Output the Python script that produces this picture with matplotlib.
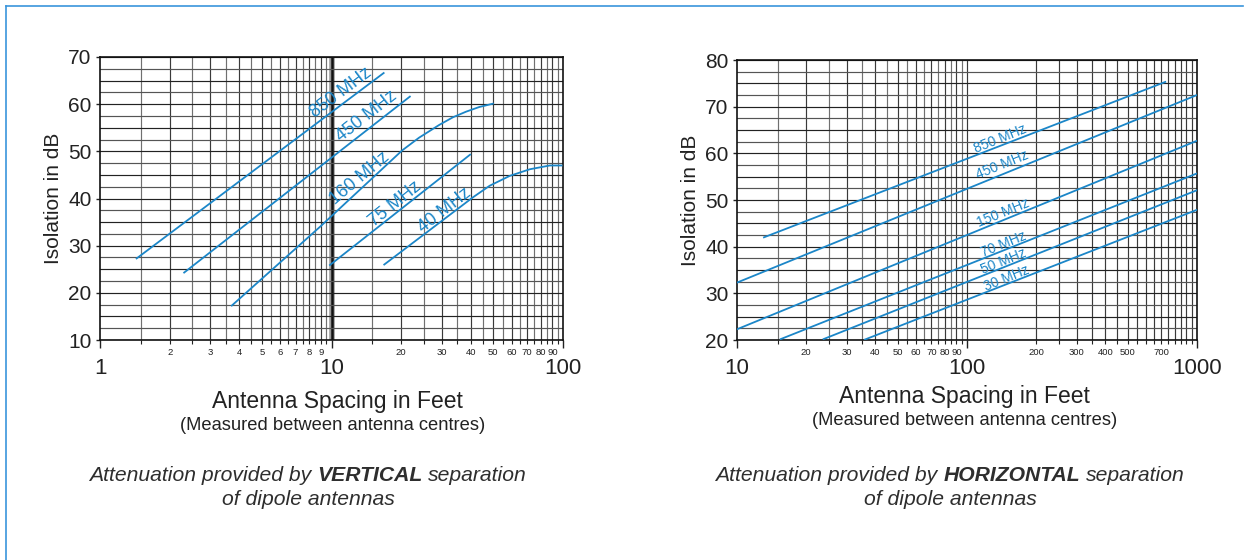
import numpy as np
import matplotlib
matplotlib.use('Agg')
import matplotlib.pyplot as plt
from matplotlib.lines import Line2D
from matplotlib.ticker import FixedLocator, FixedFormatter

plt.rcParams['font.family'] = ['Liberation Sans', 'DejaVu Sans']

LINE_BLUE = '#1b86c8'
FRAME_BLUE = '#3a95dc'
TEXT = '#222222'

# Vertical separation: spacing in feet / isolation in dB
vert_labels = ['850 MHz', '450 MHz', '160 MHz', '75 MHz', '40 MHz']
vert_850_x = [1.44, 16.8]
vert_850_y = [27.3, 66.6]
vert_450_x = [2.31, 21.8]
vert_450_y = [24.3, 61.6]
vert_160_x = [3.71, 8.92, 20.2, 23.9, 29.2, 33.4, 38.1, 43.5, 49.8]
vert_160_y = [17.3, 34.0, 50.2, 52.9, 55.6, 57.2, 58.4, 59.4, 60.1]
vert_75_x = [9.85, 39.7]
vert_75_y = [25.9, 49.3]
vert_40_x = [16.9, 40.7, 48.2, 58.9, 71.9, 87.7, 98.6]
vert_40_y = [26.0, 40.2, 42.7, 44.8, 46.2, 47.0, 47.0]
# where each frequency label sits (x, y, angle)
vert_label_pos = [(11.0, 62.4, 37), (14.2, 57.5, 38), (13.3, 44.3, 40),
                  (18.8, 38.9, 39), (30.7, 37.4, 38)]

# Horizontal separation
horiz_labels = ['850 MHz', '450 MHz', '150 MHz', '70 MHz', '50 MHz', '30 MHz']
horiz_850_x = [13.1, 728]
horiz_850_y = [42.0, 75.3]
horiz_450_x = [10, 1000]
horiz_450_y = [32.3, 72.5]
horiz_150_x = [10, 1000]
horiz_150_y = [22.3, 62.7]
horiz_70_x = [15.5, 1000]
horiz_70_y = [20.2, 55.7]
horiz_50_x = [23.8, 1000]
horiz_50_y = [20.2, 52.1]
horiz_30_x = [36, 1000]
horiz_30_y = [20.1, 47.9]
horiz_label_pos = [(140, 63.1), (142, 57.5), (143, 47.2),
                   (144, 40.5), (145, 36.9), (148, 33.3)]

vert_minor_labels = ['2', '3', '4', '5', '6', '7', '8', '9',
                     '20', '30', '40', '50', '60', '70', '80', '90']
horiz_minor_labels = ['20', '30', '40', '50', '60', '70', '80', '90',
                      '200', '300', '400', '500', '700']


def setup_chart(ax, xlim, ylim, xgrid, bold_x, minor_labels):
    ax.set_xscale('log')
    ax.set_xlim(*xlim)
    ax.set_ylim(*ylim)
    for x in xgrid:
        whole = abs(x - round(x)) < 1e-9 and (x < 10 or x % 10 == 0 or x % 100 == 0)
        ax.axvline(x, color='#3a3a3a' if whole else '#707070', lw=0.85, zorder=1)
    if bold_x is not None:
        ax.axvline(bold_x, color='#9a9a9a', lw=4, zorder=1)
        ax.axvline(bold_x, color='#111111', lw=1.8, zorder=1)
    for y in np.arange(ylim[0], ylim[1] + 0.01, 2.5):
        ax.axhline(y, color='#222222' if y % 5 == 0 else '#555555', lw=0.85, zorder=1)
    for s in ax.spines.values():
        s.set_color('#111111')
        s.set_linewidth(1.2)

    major = [xlim[0], xlim[0] * 10, xlim[1]]
    ax.xaxis.set_major_locator(FixedLocator(major))
    ax.xaxis.set_major_formatter(FixedFormatter([str(int(v)) for v in major]))
    minor_pos = [x for x in xgrid if x not in major]
    minor_txt = []
    for x in minor_pos:
        name = str(int(x)) if abs(x - round(x)) < 1e-9 else ''
        minor_txt.append(name if name in minor_labels else '')
    ax.xaxis.set_minor_locator(FixedLocator(minor_pos))
    ax.xaxis.set_minor_formatter(FixedFormatter(minor_txt))
    ax.tick_params(axis='x', which='major', length=6, width=1, pad=7,
                   labelsize=16, colors=TEXT)
    ax.tick_params(axis='x', which='minor', length=3, width=0.8, pad=3,
                   labelsize=6.8, colors=TEXT)
    ax.set_yticks(np.arange(ylim[0], ylim[1] + 1, 10))
    ax.tick_params(axis='y', which='major', length=3, width=1, pad=3,
                   labelsize=15, colors=TEXT)
    ax.yaxis.set_minor_locator(FixedLocator([]))


def caption(fig, cx, y, parts, size=15.2):
    renderer = fig.canvas.get_renderer()

    def width(s, weight):
        t = fig.text(0, 0, s, fontsize=size, style='italic', weight=weight)
        w = t.get_window_extent(renderer).width
        t.remove()
        return w

    space = width('a a', 'normal') - width('aa', 'normal')
    widths = [width(s, w) for s, w in parts]
    total = sum(widths) + space * (len(parts) - 1)
    x = cx * fig.bbox.width - total / 2
    for (s, w), pw in zip(parts, widths):
        fig.text(x / fig.bbox.width, y, s, fontsize=size, style='italic',
                 weight=w, color='#2e2e2e', ha='left', va='baseline')
        x += pw + space


fig = plt.figure(figsize=(12.47, 5.6), dpi=100)
W, H = 1247, 560

# frame around the panel
fig.add_artist(Line2D([6 / W, 6 / W], [0, 1 - 6 / H], color=FRAME_BLUE, lw=1.2))
fig.add_artist(Line2D([6 / W, 1243 / W], [1 - 6 / H, 1 - 6 / H], color=FRAME_BLUE, lw=1.2))

# ---- vertical separation chart ----
ax1 = fig.add_axes([100 / W, 220 / H, 463 / W, 283 / H])
grid1 = list(np.arange(1.5, 10, 0.5)) + list(np.arange(15, 100, 5))
setup_chart(ax1, (1, 100), (10, 70), grid1, 10, vert_minor_labels)

vert_series = [(vert_850_x, vert_850_y), (vert_450_x, vert_450_y),
               (vert_160_x, vert_160_y), (vert_75_x, vert_75_y),
               (vert_40_x, vert_40_y)]
for (xs, ys), name, (lx, ly, rot) in zip(vert_series, vert_labels, vert_label_pos):
    ax1.plot(xs, ys, color=LINE_BLUE, lw=1.3, zorder=3)
    ax1.text(lx, ly, name, color=LINE_BLUE, fontsize=13, rotation=rot,
             rotation_mode='anchor', ha='center', va='center', zorder=4)

ax1.set_ylabel('Isolation in dB', fontsize=15, color=TEXT, labelpad=4)
fig.text(337 / W, 1 - 408 / H, 'Antenna Spacing in Feet', fontsize=16.5,
         color=TEXT, ha='center', va='baseline')
fig.text(333 / W, 1 - 430 / H, '(Measured between antenna centres)', fontsize=13.2,
         color=TEXT, ha='center', va='baseline')

# ---- horizontal separation chart ----
ax2 = fig.add_axes([737 / W, 220 / H, 460 / W, 280 / H])
grid2 = list(np.arange(15, 100, 5)) + [100] + list(np.arange(200, 1000, 50))
setup_chart(ax2, (10, 1000), (20, 80), grid2, None, horiz_minor_labels)

horiz_series = [(horiz_850_x, horiz_850_y), (horiz_450_x, horiz_450_y),
                (horiz_150_x, horiz_150_y), (horiz_70_x, horiz_70_y),
                (horiz_50_x, horiz_50_y), (horiz_30_x, horiz_30_y)]
for (xs, ys), name, (lx, ly) in zip(horiz_series, horiz_labels, horiz_label_pos):
    ax2.plot(xs, ys, color=LINE_BLUE, lw=1.3, zorder=3)
    ax2.text(lx, ly, name, color=LINE_BLUE, fontsize=10, rotation=22,
             rotation_mode='anchor', ha='center', va='center', zorder=4)

ax2.set_ylabel('Isolation in dB', fontsize=15, color=TEXT, labelpad=4)
fig.text(964 / W, 1 - 403 / H, 'Antenna Spacing in Feet', fontsize=16.5,
         color=TEXT, ha='center', va='baseline')
fig.text(965 / W, 1 - 425 / H, '(Measured between antenna centres)', fontsize=13.2,
         color=TEXT, ha='center', va='baseline')

# ---- captions ----
caption(fig, 308 / W, 1 - 481 / H,
        [('Attenuation provided by', 'normal'), ('VERTICAL', 'bold'), ('separation', 'normal')])
caption(fig, 308 / W, 1 - 505 / H, [('of dipole antennas', 'normal')])
caption(fig, 950 / W, 1 - 481 / H,
        [('Attenuation provided by', 'normal'), ('HORIZONTAL', 'bold'), ('separation', 'normal')])
caption(fig, 950 / W, 1 - 505 / H, [('of dipole antennas', 'normal')])

fig.savefig('out.png', dpi=100)
